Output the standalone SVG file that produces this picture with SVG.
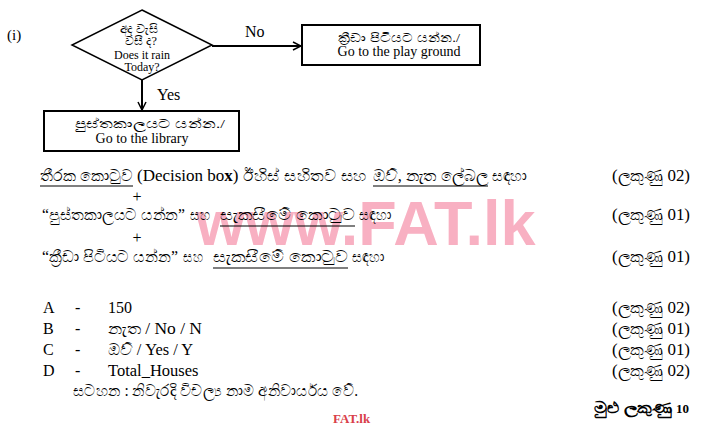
<svg xmlns="http://www.w3.org/2000/svg" width="713" height="429" viewBox="0 0 713 429">
<defs>
<style>
text{font-family:"Liberation Serif","Noto Sans",serif;fill:#000}
.s{font-size:15px}
.m{font-size:16px}
.sm{font-size:12px}
.c{text-anchor:middle}
.box{fill:#fff;stroke:#000;stroke-width:2}
.ln{stroke:#000;stroke-width:2;fill:none}
.ul{stroke:#000;stroke-width:1.2}
</style>
<marker id="ah" viewBox="0 0 10 10" refX="9" refY="5" markerWidth="10" markerHeight="10" markerUnits="userSpaceOnUse" orient="auto">
<path d="M1,1 L9,5 L1,9" fill="none" stroke="#000" stroke-width="1.5"/>
</marker>
</defs>
<rect width="713" height="429" fill="#fff"/>
<text x="196" y="245" style="font-family:'Liberation Sans',Arial,sans-serif;font-weight:bold;font-size:63px;fill:#f8b0c2">www.FAT.lk</text>
<text x="7" y="40" class="s">(i)</text>
<g id="connectors">
<line x1="212" y1="46" x2="301" y2="46" class="ln" marker-end="url(#ah)"/>
<line x1="142" y1="80" x2="142" y2="110" class="ln" marker-end="url(#ah)"/>
<text x="245" y="37" class="m">No</text>
<text x="157" y="100" class="m">Yes</text>
</g>
<g id="decision">
<polygon points="142,10 212,45 142,80 72,45" fill="#fff" stroke="#000" stroke-width="1.5"/>
<text x="139" y="33" class="sm c" textLength="38" lengthAdjust="spacingAndGlyphs">අද වැසි</text>
<text x="141" y="45" class="sm c" textLength="32" lengthAdjust="spacingAndGlyphs">වසී ද?</text>
<text x="142" y="59" class="sm c">Does it rain</text>
<text x="142" y="71" class="sm c">Today?</text>
</g>
<g id="playground">
<rect x="302" y="25" width="178" height="40" class="box"/>
<text x="338" y="42" class="sm" textLength="122" lengthAdjust="spacingAndGlyphs">ක්‍රීඩා පිටියට යන්න./</text>
<text x="399" y="56" class="c" style="font-size:14px">Go to the play ground</text>
</g>
<g id="library">
<rect x="44" y="111" width="195" height="40" class="box"/>
<text x="75" y="128" class="sm" textLength="150" lengthAdjust="spacingAndGlyphs">පුස්තකාලයට යන්න./</text>
<text x="142" y="143" class="c" style="font-size:14px">Go to the library</text>
</g>
<g id="marks">
<text x="40" y="181" class="m" textLength="93" lengthAdjust="spacingAndGlyphs">තීරක කොටුව</text>
<text x="137" y="181" style="font-size:17px">(Decision bo<tspan font-weight="bold">x</tspan>)</text>
<text x="243" y="181" class="m" textLength="124" lengthAdjust="spacingAndGlyphs">ඊහිස් සහිතව සහ</text>
<text x="373" y="181" class="m" textLength="115" lengthAdjust="spacingAndGlyphs">ඔව්, නැත ලේබල</text>
<text x="492" y="181" class="m" textLength="35" lengthAdjust="spacingAndGlyphs">සඳහා</text>
<line x1="40" y1="186" x2="133" y2="186" class="ul"/>
<line x1="373" y1="186" x2="488" y2="186" class="ul"/>
<text x="612" y="181" class="m" textLength="78" lengthAdjust="spacingAndGlyphs">(ලකුණු 02)</text>
<text x="137" y="202" class="m c">+</text>
<text x="42" y="220" class="m" textLength="143" lengthAdjust="spacingAndGlyphs">“පුස්තකාලයට යන්න”</text>
<text x="190" y="220" class="m" textLength="20" lengthAdjust="spacingAndGlyphs">සහ</text>
<text x="220" y="220" class="m" textLength="135" lengthAdjust="spacingAndGlyphs">සැකසීමේ කොටුව</text>
<text x="359" y="220" class="m" textLength="32" lengthAdjust="spacingAndGlyphs">සඳහා</text>
<line x1="220" y1="226" x2="355" y2="226" class="ul"/>
<text x="612" y="220" class="m" textLength="78" lengthAdjust="spacingAndGlyphs">(ලකුණු 01)</text>
<text x="137" y="243" class="m c">+</text>
<text x="42" y="262" class="m" textLength="136" lengthAdjust="spacingAndGlyphs">“ක්‍රීඩා පිටියට යන්න”</text>
<text x="183" y="262" class="m" textLength="20" lengthAdjust="spacingAndGlyphs">සහ</text>
<text x="213" y="262" class="m" textLength="135" lengthAdjust="spacingAndGlyphs">සැකසීමේ කොටුව</text>
<text x="352" y="262" class="m" textLength="32" lengthAdjust="spacingAndGlyphs">සඳහා</text>
<line x1="213" y1="268" x2="348" y2="268" class="ul"/>
<text x="612" y="262" class="m" textLength="78" lengthAdjust="spacingAndGlyphs">(ලකුණු 01)</text>
<text x="43" y="313" class="m">A</text><text x="75" y="313" class="m">-</text><text x="108" y="313" class="m">150</text>
<text x="612" y="313" class="m" textLength="78" lengthAdjust="spacingAndGlyphs">(ලකුණු 02)</text>
<text x="43" y="334" class="m">B</text><text x="75" y="334" class="m">-</text><text x="108" y="334" class="m" textLength="94" lengthAdjust="spacingAndGlyphs">නැත / No / N</text>
<text x="612" y="334" class="m" textLength="78" lengthAdjust="spacingAndGlyphs">(ලකුණු 01)</text>
<text x="43" y="355" class="m">C</text><text x="75" y="355" class="m">-</text><text x="108" y="355" class="m" textLength="85" lengthAdjust="spacingAndGlyphs">ඔව් / Yes / Y</text>
<text x="612" y="355" class="m" textLength="78" lengthAdjust="spacingAndGlyphs">(ලකුණු 01)</text>
<text x="43" y="376" class="m">D</text><text x="75" y="376" class="m">-</text><text x="108" y="376" style="font-size:16.5px">Total_Houses</text>
<text x="612" y="376" class="m" textLength="78" lengthAdjust="spacingAndGlyphs">(ලකුණු 02)</text>
<text x="73" y="396" class="m" textLength="285" lengthAdjust="spacingAndGlyphs">සටහන : නිවැරදි විචල්‍ය නාම අනිවාර්යය වේ.</text>
<text x="594" y="413" class="s" font-weight="bold" textLength="78" lengthAdjust="spacingAndGlyphs">මුළු ලකුණු</text>
<text x="676" y="413" style="font-size:13px;font-weight:bold">10</text>
<text x="333" y="423" style="font-size:13px;font-weight:bold;fill:#d9404a">FAT.lk</text>
</g>
</svg>
